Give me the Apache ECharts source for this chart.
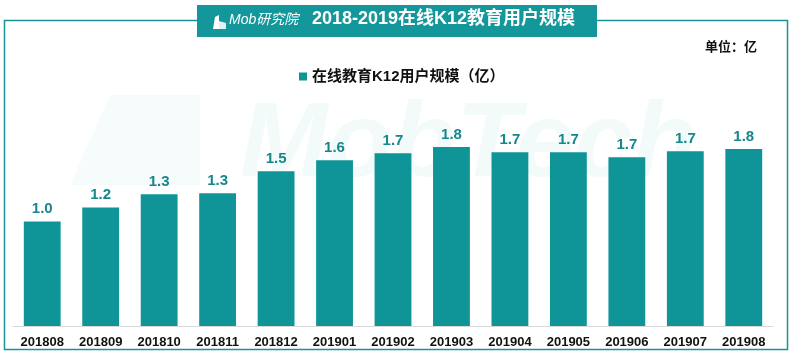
<!DOCTYPE html>
<html><head><meta charset="utf-8">
<script src="https://cdn.jsdelivr.net/npm/echarts@6/dist/echarts.min.js"></script>
<style>html,body{margin:0;padding:0;background:#fff;}#c{width:792px;height:354px;}</style>
</head><body><div id="c"></div>
<script>
const categories = ['201808','201809','201810','201811','201812','201901','201902','201903','201904','201905','201906','201907','201908'];
const userScale = [1.04,1.18,1.31,1.32,1.54,1.65,1.72,1.78,1.73,1.73,1.68,1.74,1.76];
const seriesName = '在线教育K12用户规模（亿）';
const titleText = '2018-2019在线K12教育用户规模';
const unitText = '单位：亿';

const FONT = '"Liberation Sans", "Noto Sans CJK SC", sans-serif';
const TEAL = '#0f9497';
const chart = echarts.init(document.getElementById('c'), null, {renderer:'canvas'});
chart.setOption({
  backgroundColor:'#ffffff',
  animation:false,
  grid:{left:13,right:19,top:125,bottom:28},
  legend:{
    data:[seriesName], left:294, top:64, icon:'rect', itemWidth:8, itemHeight:8, itemGap:5,
    textStyle:{fontFamily:FONT,fontSize:15,fontWeight:'bold',color:'#111'}
  },
  xAxis:{
    type:'category', data:categories,
    axisLine:{lineStyle:{color:'#d9d9d9',width:1}},
    axisTick:{show:false},
    axisLabel:{fontFamily:FONT,fontSize:13,fontWeight:'bold',color:'#111',margin:10,interval:0}
  },
  yAxis:{type:'value',min:0,max:2,show:false,splitLine:{show:false}},
  series:[{
    name:seriesName, type:'bar', data:userScale, barWidth:'63%',
    itemStyle:{color:TEAL},
    label:{show:true,position:'top',distance:5,fontFamily:FONT,fontSize:15,fontWeight:'bold',color:'#16878d',
      formatter:p=>p.value.toFixed(1)}
  }],
  graphic:[
    {type:'text',z:-10,left:240,top:95,style:{text:'MobTech',font:'italic bold 105px "Liberation Sans", sans-serif',fill:'rgba(15,148,151,0.05)'}},
    {type:'polygon',z:-10,shape:{points:[[70,185],[110,95],[200,95],[200,185]]},style:{fill:'rgba(15,148,151,0.04)'}},
    {type:'rect',shape:{x:4.5,y:20.5,width:783,height:329},style:{fill:'none',stroke:'#16939a',lineWidth:1.5}},
    {type:'rect',shape:{x:197,y:5,width:400,height:32},style:{fill:'#13979b'}},
    {type:'polygon',shape:{points:[[213,29],[215,17],[219,15],[219,29]]},style:{fill:'#ffffff'}},
    {type:'polygon',shape:{points:[[219,29],[219,21],[226,23],[226,29]]},style:{fill:'#e0f2f2'}},
    {type:'text',left:229,top:13,style:{text:'Mob研究院',font:'italic 14px "Liberation Sans","Noto Sans CJK SC",sans-serif',fill:'#ffffff'}},
    {type:'text',left:312,top:10,style:{text:titleText,font:'bold 18px "Liberation Sans","Noto Sans CJK SC",sans-serif',fill:'#ffffff'}},
    {type:'text',left:705,top:41,style:{text:unitText,font:'bold 13px "Liberation Sans","Noto Sans CJK SC",sans-serif',fill:'#111'}}
  ]
});
</script></body></html>
